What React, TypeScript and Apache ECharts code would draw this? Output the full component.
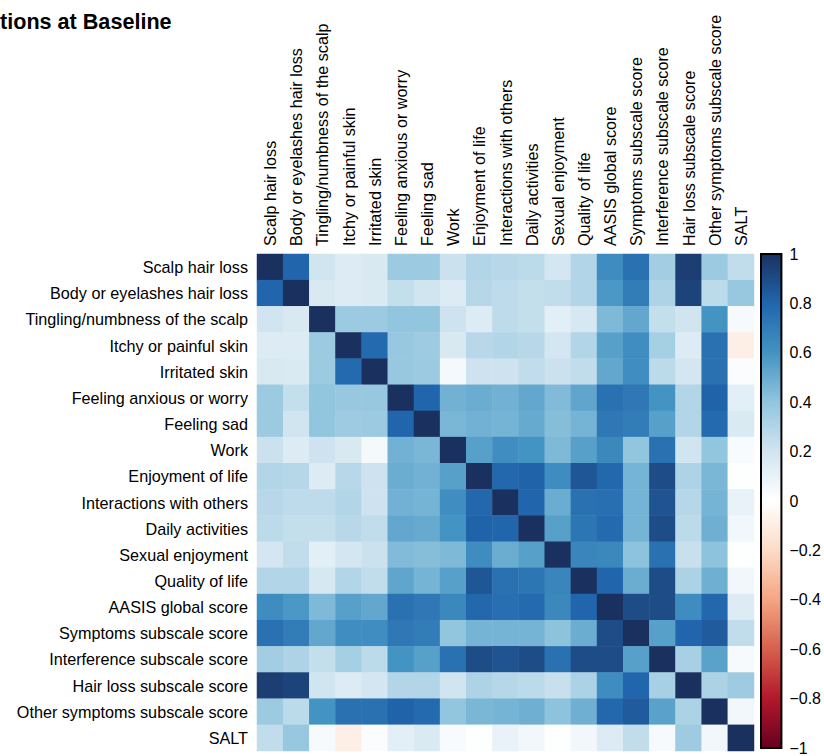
import React, { useEffect, useRef } from "react";
import * as echarts from "echarts";

const categories: string[] = [
  "Scalp hair loss",
  "Body or eyelashes hair loss",
  "Tingling/numbness of the scalp",
  "Itchy or painful skin",
  "Irritated skin",
  "Feeling anxious or worry",
  "Feeling sad",
  "Work",
  "Enjoyment of life",
  "Interactions with others",
  "Daily activities",
  "Sexual enjoyment",
  "Quality of life",
  "AASIS global score",
  "Symptoms subscale score",
  "Interference subscale score",
  "Hair loss subscale score",
  "Other symptoms subscale score",
  "SALT",
];

const corrRows: number[][] = [
  [1.0, 0.8, 0.2, 0.15, 0.17, 0.37, 0.37, 0.22, 0.3, 0.28, 0.27, 0.19, 0.3, 0.63, 0.75, 0.35, 0.95, 0.37, 0.25],
  [0.8, 1.0, 0.17, 0.15, 0.16, 0.24, 0.2, 0.15, 0.29, 0.26, 0.24, 0.25, 0.3, 0.58, 0.7, 0.31, 0.93, 0.27, 0.38],
  [0.2, 0.17, 1.0, 0.37, 0.37, 0.4, 0.4, 0.21, 0.15, 0.26, 0.24, 0.12, 0.18, 0.45, 0.52, 0.24, 0.2, 0.6, 0.04],
  [0.15, 0.15, 0.37, 1.0, 0.78, 0.38, 0.36, 0.17, 0.28, 0.3, 0.28, 0.19, 0.3, 0.55, 0.62, 0.34, 0.15, 0.75, -0.09],
  [0.17, 0.16, 0.37, 0.78, 1.0, 0.38, 0.37, 0.05, 0.21, 0.21, 0.25, 0.22, 0.25, 0.52, 0.62, 0.27, 0.19, 0.75, 0.02],
  [0.37, 0.24, 0.4, 0.38, 0.38, 1.0, 0.8, 0.48, 0.5, 0.48, 0.52, 0.44, 0.53, 0.75, 0.72, 0.6, 0.3, 0.81, 0.12],
  [0.37, 0.2, 0.4, 0.36, 0.37, 0.8, 1.0, 0.46, 0.48, 0.47, 0.51, 0.43, 0.47, 0.72, 0.7, 0.55, 0.3, 0.78, 0.16],
  [0.22, 0.15, 0.21, 0.17, 0.05, 0.48, 0.46, 1.0, 0.55, 0.62, 0.6, 0.45, 0.55, 0.65, 0.4, 0.75, 0.2, 0.4, 0.03],
  [0.3, 0.29, 0.15, 0.28, 0.21, 0.5, 0.48, 0.55, 1.0, 0.79, 0.81, 0.63, 0.86, 0.79, 0.47, 0.9, 0.31, 0.46, 0.01],
  [0.28, 0.26, 0.26, 0.3, 0.21, 0.48, 0.47, 0.62, 0.79, 1.0, 0.8, 0.5, 0.75, 0.76, 0.47, 0.87, 0.29, 0.47, 0.1],
  [0.27, 0.24, 0.24, 0.28, 0.25, 0.52, 0.51, 0.6, 0.81, 0.8, 1.0, 0.55, 0.73, 0.78, 0.47, 0.9, 0.27, 0.49, 0.06],
  [0.19, 0.25, 0.12, 0.19, 0.22, 0.44, 0.43, 0.45, 0.63, 0.5, 0.55, 1.0, 0.66, 0.65, 0.41, 0.75, 0.23, 0.41, 0.01],
  [0.3, 0.3, 0.18, 0.3, 0.25, 0.53, 0.47, 0.55, 0.86, 0.75, 0.73, 0.66, 1.0, 0.8, 0.5, 0.9, 0.32, 0.49, 0.06],
  [0.63, 0.58, 0.45, 0.55, 0.52, 0.75, 0.72, 0.65, 0.79, 0.76, 0.78, 0.65, 0.8, 1.0, 0.9, 0.9, 0.63, 0.79, 0.15],
  [0.75, 0.7, 0.52, 0.62, 0.62, 0.72, 0.7, 0.4, 0.47, 0.47, 0.47, 0.41, 0.5, 0.9, 1.0, 0.55, 0.8, 0.84, 0.25],
  [0.35, 0.31, 0.24, 0.34, 0.27, 0.6, 0.55, 0.75, 0.9, 0.87, 0.9, 0.75, 0.9, 0.9, 0.55, 1.0, 0.33, 0.54, 0.04],
  [0.95, 0.93, 0.2, 0.15, 0.19, 0.3, 0.3, 0.2, 0.31, 0.29, 0.27, 0.23, 0.32, 0.63, 0.8, 0.33, 1.0, 0.32, 0.36],
  [0.37, 0.27, 0.6, 0.75, 0.75, 0.81, 0.78, 0.4, 0.46, 0.47, 0.49, 0.41, 0.49, 0.79, 0.84, 0.54, 0.32, 1.0, 0.06],
  [0.25, 0.38, 0.04, -0.09, 0.02, 0.12, 0.16, 0.03, 0.01, 0.1, 0.06, 0.01, 0.06, 0.15, 0.25, 0.04, 0.36, 0.06, 1.0],
];

// colour scale from -1 (dark red) to +1 (dark blue)
const scaleColors: string[] = [
  "#67001f", "#b2182b", "#d6604d", "#f4a582", "#fddbc7", "#ffffff",
  "#d1e5f0", "#92c5de", "#4393c3", "#2166ac", "#1a3160",
];

const titleText = "tions at Baseline";
const FONT = "'Liberation Sans', Arial, Helvetica, sans-serif";

export default function App() {
  const ref = useRef<HTMLDivElement>(null);

  useEffect(() => {
    document.body.style.margin = "0";
    if (!ref.current) return;
    const chart = echarts.init(ref.current, undefined, { renderer: "svg" });

    const data: [number, number, number][] = [];
    corrRows.forEach((row, yi) => {
      row.forEach((v, xi) => data.push([xi, yi, v]));
    });

    const n = scaleColors.length;
    const gradStops = scaleColors
      .slice()
      .reverse()
      .map((c, i) => ({ offset: i / (n - 1), color: c }));

    const option: any = {
      animation: false,
      textStyle: { fontFamily: FONT },
      graphic: [
        {
          type: "text",
          x: 0,
          y: 21,
          style: {
            text: titleText,
            font: `bold 21.6px ${FONT}`,
            fill: "#000",
            align: "left",
            verticalAlign: "middle",
          },
        },
      ],
      grid: [
        { left: 257, top: 254, width: 497, height: 497 },
        { left: 761, top: 254, width: 21, height: 496 },
      ],
      xAxis: [
        {
          type: "category",
          gridIndex: 0,
          data: categories,
          position: "top",
          axisLine: { show: false },
          axisTick: { show: false },
          splitLine: { show: false },
          axisLabel: {
            rotate: -90,
            interval: 0,
            fontSize: 16.2,
            color: "#000",
            margin: 8,
            fontFamily: FONT,
          },
        },
        {
          type: "value",
          gridIndex: 1,
          min: 0,
          max: 1,
          show: false,
        },
      ],
      yAxis: [
        {
          type: "category",
          gridIndex: 0,
          data: categories,
          inverse: true,
          axisLine: { show: false },
          axisTick: { show: false },
          splitLine: { show: false },
          axisLabel: {
            interval: 0,
            fontSize: 16.2,
            color: "#000",
            margin: 9,
            fontFamily: FONT,
          },
        },
        {
          type: "value",
          gridIndex: 1,
          min: -1,
          max: 1,
          interval: 0.2,
          position: "right",
          axisLine: { show: false },
          splitLine: { show: false },
          axisTick: {
            show: true,
            length: 4,
            lineStyle: { color: "#000", width: 1.2 },
          },
          axisLabel: {
            fontSize: 16,
            color: "#000",
            margin: 8,
            fontFamily: FONT,
            formatter: (v: number) => {
              const r = Math.round(v * 10) / 10;
              if (r === 0) return "0";
              return String(r).replace("-", "\u2212");
            },
          },
        },
      ],
      visualMap: {
        show: false,
        type: "continuous",
        min: -1,
        max: 1,
        seriesIndex: 0,
        dimension: 2,
        inRange: { color: scaleColors },
      },
      series: [
        {
          type: "heatmap",
          xAxisIndex: 0,
          yAxisIndex: 0,
          data,
          itemStyle: { borderWidth: 0 },
          emphasis: { disabled: true },
          silent: true,
        },
        {
          type: "custom",
          xAxisIndex: 1,
          yAxisIndex: 1,
          silent: true,
          data: [[0, -1]],
          renderItem: (params: any, api: any) => {
            const p0 = api.coord([0, 1]);
            const p1 = api.coord([1, -1]);
            return {
              type: "rect",
              shape: { x: p0[0], y: p0[1], width: p1[0] - p0[0], height: p1[1] - p0[1] },
              style: {
                fill: new echarts.graphic.LinearGradient(0, 0, 0, 1, gradStops),
                stroke: "#000",
                lineWidth: 2,
              },
            };
          },
        },
      ],
    };

    chart.setOption(option);
    return () => chart.dispose();
  }, []);

  return (
    <div
      ref={ref}
      style={{ position: "absolute", left: 0, top: 0, width: 824, height: 756 }}
    />
  );
}
